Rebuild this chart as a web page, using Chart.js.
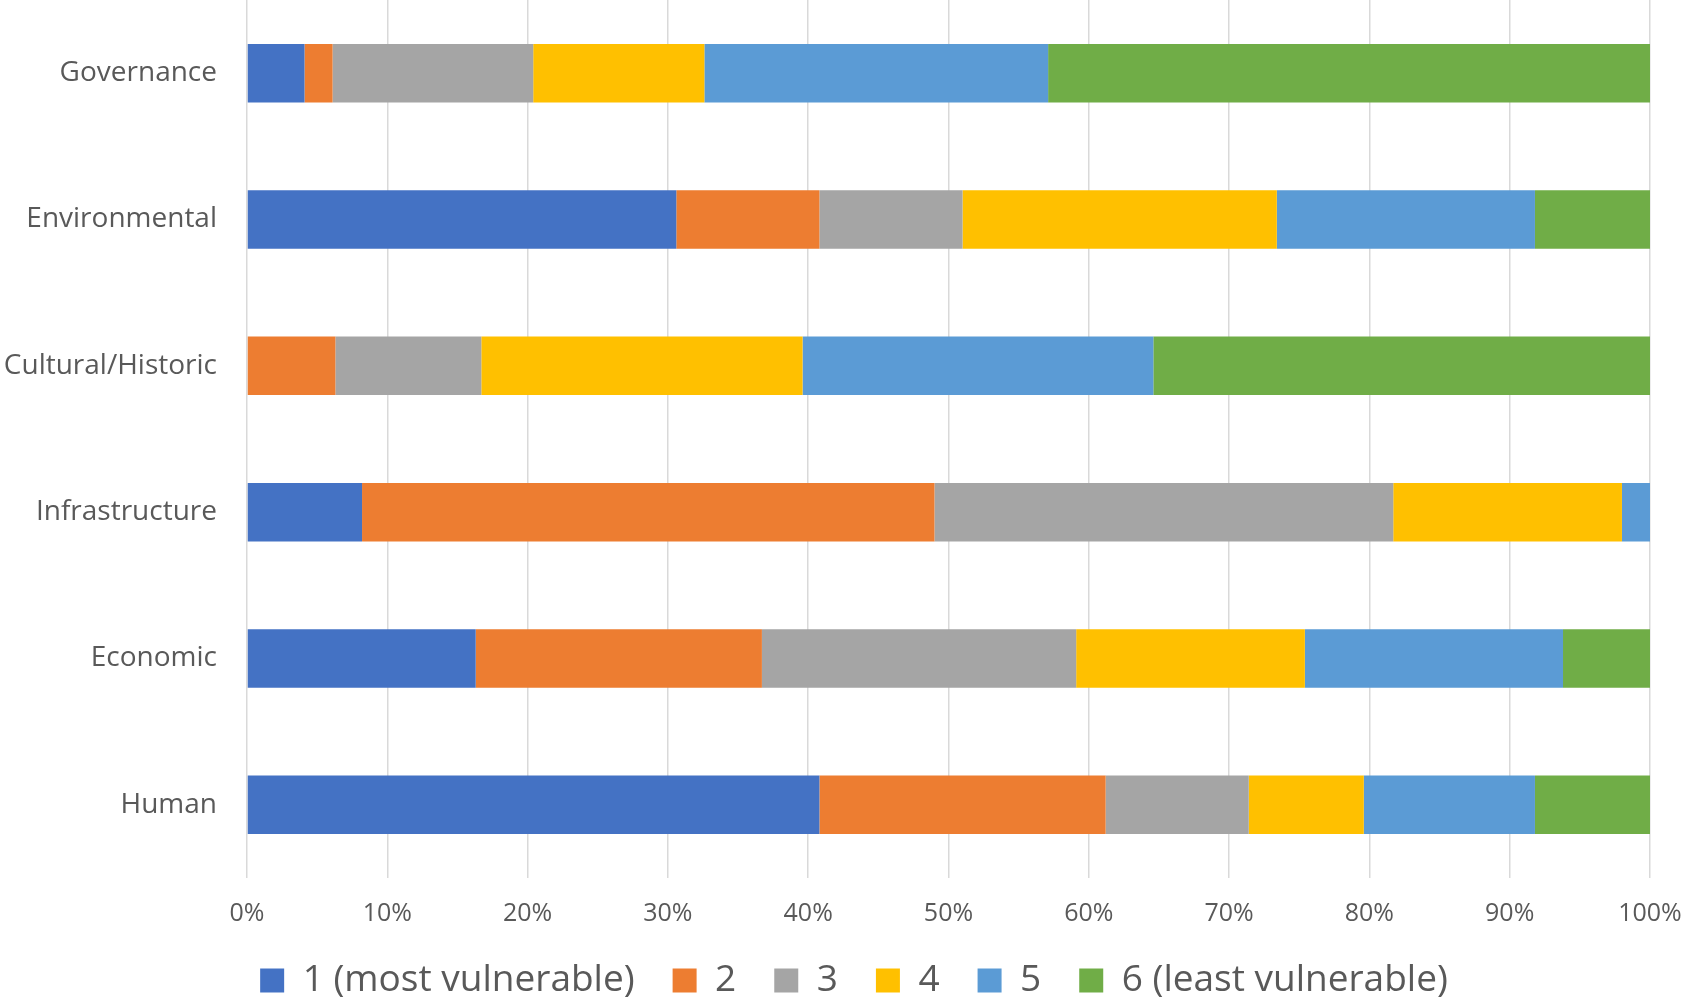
<!DOCTYPE html>
<html>
<head>
<meta charset="utf-8">
<script src="https://cdn.jsdelivr.net/npm/chart.js@4/dist/chart.umd.min.js"></script>
<style>
  html, body { margin: 0; padding: 0; background: #fff; }
  #wrap { width: 1683px; height: 1001px; }
</style>
</head>
<body>
<div id="wrap"><canvas id="vuln-chart"></canvas></div>
<script>
// vulnerability ranking chart (100% stacked, horizontal)

const categories = ['Governance', 'Environmental', 'Cultural/Historic', 'Infrastructure', 'Economic', 'Human'];
const tickLabels = ['0%', '10%', '20%', '30%', '40%', '50%', '60%', '70%', '80%', '90%', '100%'];

const rank1 = [4.1, 30.6, 0, 8.2, 16.3, 40.8];
const rank2 = [2.0, 10.2, 6.3, 40.8, 20.4, 20.4];
const rank3 = [14.3, 10.2, 10.4, 32.7, 22.4, 10.2];
const rank4 = [12.2, 22.4, 22.9, 16.3, 16.3, 8.2];
const rank5 = [24.5, 18.4, 25.0, 2.0, 18.4, 12.2];
const rank6 = [42.9, 8.2, 35.4, 0, 6.2, 8.2];

const seriesNames = ['1 (most vulnerable)', '2', '3', '4', '5', '6 (least vulnerable)'];
const colors = ['#4472C4', '#ED7D31', '#A5A5A5', '#FFC000', '#5B9BD5', '#70AD47'];
const series = [rank1, rank2, rank3, rank4, rank5, rank6];

const textColor = '#595959';

const vulnData = {
  labels: categories,
  datasets: series.map((vals, i) => ({
    label: seriesNames[i],
    data: vals,
    backgroundColor: colors[i],
    borderWidth: 0,
    barPercentage: 1,
    categoryPercentage: 0.4
  }))
};

// legend box is too tall by default, pin its height so it sits low like excel's
const legendHeight = {
  id: 'legendHeight',
  afterInit(chart) {
    const lg = chart.legend;
    const fit = lg.fit.bind(lg);
    lg.fit = function () {
      fit();
      this.height = 77;
    };
  }
};

// no auto padding, and don't clip tick labels to the scale box
const noPad = (scale) => {
  scale.paddingTop = 0;
  scale.paddingBottom = 0;
  scale.paddingLeft = 0;
  scale.paddingRight = 0;
  scale._computeLabelArea = () => undefined;
};

const vulnConfig = {
  type: 'bar',
  data: vulnData,
  plugins: [legendHeight],
  options: {
    indexAxis: 'y',
    responsive: true,
    maintainAspectRatio: false,
    animation: false,
    layout: { padding: { top: 0, right: 33, bottom: 0, left: 58 } },
    plugins: {
      tooltip: { enabled: false },
      legend: {
        position: 'bottom',
        labels: {
          color: textColor,
          font: { family: 'Open Sans', size: 37 },
          boxWidth: 24,
          boxHeight: 24,
          padding: 38
        }
      }
    },
    scales: {
      x: {
        stacked: true,
        min: 0,
        max: 100,
        border: { display: false },
        grid: { color: '#D9D9D9', lineWidth: 1.5, drawTicks: false },
        ticks: {
          stepSize: 10,
          padding: 21,
          maxRotation: 0,
          color: textColor,
          font: { family: 'Open Sans', size: 25 },
          callback: (v, i) => tickLabels[i]
        },
        afterFit: (scale) => { scale.height = 46; noPad(scale); }
      },
      y: {
        stacked: true,
        border: { display: false },
        grid: { display: false },
        ticks: {
          padding: 22,
          color: textColor,
          font: { family: 'Open Sans', size: 28 }
        },
        afterFit: (scale) => { scale.width = 189; noPad(scale); }
      }
    }
  }
};

var vulnChart = new Chart(document.getElementById('vuln-chart'), vulnConfig);
</script>
</body>
</html>
